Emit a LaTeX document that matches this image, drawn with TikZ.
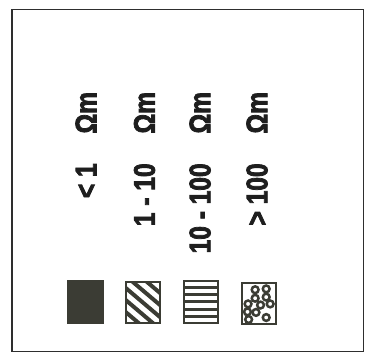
\documentclass[tikz,border=0pt]{standalone}
\usepackage{fontspec}
\usepackage{xcolor}
\newfontfamily\legendfont[FakeStretch=0.82, BoldFeatures={FakeBold=2.5}]{Liberation Sans}
\definecolor{lgframe}{RGB}{46,46,46}
\definecolor{lgtext}{RGB}{30,30,30}
\definecolor{lgfill}{RGB}{59,60,52}
\usetikzlibrary{calc}

\begin{document}
\begin{tikzpicture}
  \useasboundingbox (0,0) rectangle (12.91,12.45);
  \draw[lgframe, line width=1.3pt] (0.42,0.05) rectangle (12.81,12.12);

  % Resistivity classes
  \node[rotate=90, anchor=base east, inner sep=0pt, text=lgtext, font=\legendfont\bfseries\fontsize{30}{33}\selectfont] (res1) at (3.40,9.21) {< 1\quad Ωm};
  \node[rotate=90, anchor=base east, inner sep=0pt, text=lgtext, font=\legendfont\bfseries\fontsize{30}{33}\selectfont] (res2) at (5.46,9.21) {1 - 10\quad Ωm};
  \node[rotate=90, anchor=base east, inner sep=0pt, text=lgtext, font=\legendfont\bfseries\fontsize{30}{33}\selectfont] (res3) at (7.42,9.21) {10 - 100\quad Ωm};
  \node[rotate=90, anchor=base east, inner sep=0pt, text=lgtext, font=\legendfont\bfseries\fontsize{30}{33}\selectfont] (res4) at (9.43,9.21) {> 100\quad Ωm};

  % Pattern 1: solid
  \node[draw=lgfill, fill=lgfill, line width=2pt, minimum width=1.22cm, minimum height=1.46cm, inner sep=0pt] (pat1) at (3.02,1.80) {};

  % Pattern 2: diagonal stripes
  \node[draw=lgfill, line width=2pt, minimum width=1.22cm, minimum height=1.46cm, inner sep=0pt, path picture={
      \foreach \k in {-4,...,4}
        \draw[lgfill, line width=4pt] ($(path picture bounding box.center)+(\k*0.5-1,0.85)$) -- ++(2,-1.7);
    }] (pat2) at (5.05,1.77) {};

  % Pattern 3: horizontal stripes
  \node[draw=lgfill, line width=2pt, minimum width=1.22cm, minimum height=1.46cm, inner sep=0pt, path picture={
      \foreach \k in {-2,...,2}
        \draw[lgfill, line width=3pt] ($(path picture bounding box.center)+(-1,\k*0.25)$) -- ++(2,0);
    }] (pat3) at (7.09,1.80) {};

  % Pattern 4: circles
  \node[draw=lgfill, line width=2pt, minimum width=1.22cm, minimum height=1.46cm, inner sep=0pt, path picture={
      \foreach \cx/\cy in {0.47/1.22, 0.86/1.25, 0.47/0.92, 0.86/0.96, 0.22/0.72, 0.66/0.68, 1.00/0.72, 0.20/0.44, 0.50/0.42, 0.24/0.17, 0.86/0.24}
        \draw[lgfill, line width=2.5pt] ($(path picture bounding box.south west)+(\cx,\cy)$) circle (0.12);
    }] (pat4) at (9.14,1.74) {};
\end{tikzpicture}
\end{document}
